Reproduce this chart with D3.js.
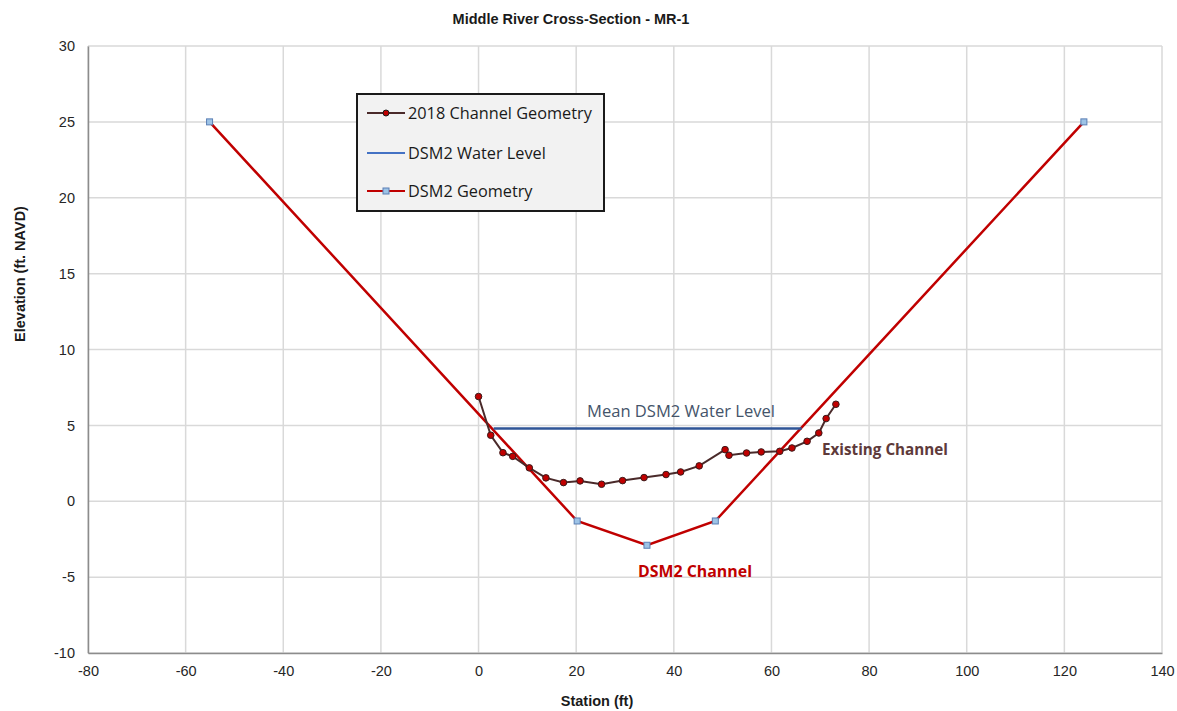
<!DOCTYPE html>
<html><head><meta charset="utf-8">
<script src="https://cdn.jsdelivr.net/npm/d3@7"></script>
<style>body{margin:0;background:#fff;} svg{display:block;}</style>
</head><body>
<script>
// ---- data ----
const channelStation = [0, 2.5, 5.0, 7.0, 10.4, 13.8, 17.4, 20.8, 25.2, 29.5, 33.9, 38.4, 41.4, 45.2, 50.5, 51.3, 54.9, 57.9, 61.7, 64.2, 67.3, 69.7, 71.2, 73.2];
const channelElev    = [6.9, 4.35, 3.2, 2.96, 2.2, 1.54, 1.23, 1.34, 1.12, 1.36, 1.56, 1.76, 1.93, 2.33, 3.4, 3.03, 3.18, 3.25, 3.29, 3.51, 3.95, 4.5, 5.45, 6.39];
const dsm2Station = [-55.1, 20.2, 34.5, 48.5, 124.0];
const dsm2Elev    = [25.0, -1.3, -2.9, -1.3, 25.0];
const waterStation = [3.1, 66.2];
const waterElev    = [4.8, 4.8];
const xTicks = [-80, -60, -40, -20, 0, 20, 40, 60, 80, 100, 120, 140];
const yTicks = [-10, -5, 0, 5, 10, 15, 20, 25, 30];
const legendLabels = ["2018 Channel Geometry", "DSM2 Water Level", "DSM2 Geometry"];

const W = 1177, H = 711;
const m = {left: 88, right: 1162, top: 46, bottom: 653};
const x = d3.scaleLinear().domain([-80, 140]).range([m.left, m.right]);
const y = d3.scaleLinear().domain([-10, 30]).range([m.bottom, m.top]);

const svg = d3.select("body").append("svg").attr("width", W).attr("height", H);
const font = "Liberation Sans, Arial, sans-serif";
const lblFont = "Open Sans, sans-serif";

// grid
svg.append("g").selectAll("line").data(xTicks).join("line")
  .attr("x1", d => x(d)).attr("x2", d => x(d)).attr("y1", m.top).attr("y2", m.bottom)
  .attr("stroke", "#d9d9d9").attr("stroke-width", 1.5);
svg.append("g").selectAll("line").data(yTicks).join("line")
  .attr("x1", m.left).attr("x2", m.right).attr("y1", d => y(d)).attr("y2", d => y(d))
  .attr("stroke", "#d9d9d9").attr("stroke-width", 1.5);

// axes
const fmt = d => String(d);
const xAxis = svg.append("g").attr("transform", `translate(0,${m.bottom})`)
  .call(d3.axisBottom(x).tickValues(xTicks).tickFormat(fmt).tickSize(0).tickPadding(13));
const yAxis = svg.append("g").attr("transform", `translate(${m.left},0)`)
  .call(d3.axisLeft(y).tickValues(yTicks).tickFormat(fmt).tickSize(0).tickPadding(13));
[xAxis, yAxis].forEach(a => {
  a.select(".domain").attr("stroke", "#8c8c8c").attr("stroke-width", 1.5);
  a.selectAll("text").attr("font-family", font).attr("font-size", 14.5).attr("fill", "#262626");
});

// series
const dsm2 = dsm2Station.map((s, i) => [s, dsm2Elev[i]]);
const ch = channelStation.map((s, i) => [s, channelElev[i]]);
const wl = waterStation.map((s, i) => [s, waterElev[i]]);
const line = d3.line().x(d => x(d[0])).y(d => y(d[1]));

svg.append("path").attr("d", line(dsm2)).attr("fill", "none").attr("stroke", "#c00000").attr("stroke-width", 2.5);
svg.append("path").attr("d", line(wl)).attr("fill", "none").attr("stroke", "#2f5597").attr("stroke-width", 2.5);
svg.append("path").attr("d", line(ch)).attr("fill", "none").attr("stroke", "#4a2a2a").attr("stroke-width", 2);
svg.append("g").selectAll("rect").data(dsm2).join("rect")
  .attr("x", d => x(d[0]) - 3).attr("y", d => y(d[1]) - 3).attr("width", 6).attr("height", 6)
  .attr("fill", "#9dc3e6").attr("stroke", "#5b7fb5").attr("stroke-width", 1);
svg.append("g").selectAll("circle").data(ch).join("circle")
  .attr("cx", d => x(d[0])).attr("cy", d => y(d[1])).attr("r", 3.3)
  .attr("fill", "#c00000").attr("stroke", "#3a1a1a").attr("stroke-width", 1);

// annotations
svg.append("text").attr("x", 681).attr("y", 417).attr("text-anchor", "middle")
  .attr("font-family", lblFont).attr("font-size", 16.3).attr("fill", "#44546a")
  .attr("textLength", 188).attr("lengthAdjust", "spacingAndGlyphs")
  .text("Mean DSM2 Water Level");
svg.append("text").attr("x", 822).attr("y", 455)
  .attr("font-family", lblFont).attr("font-weight", "bold").attr("font-size", 15.3).attr("fill", "#5e3a3a")
  .attr("textLength", 126).attr("lengthAdjust", "spacingAndGlyphs")
  .text("Existing Channel");
svg.append("text").attr("x", 638).attr("y", 577)
  .attr("font-family", lblFont).attr("font-weight", "bold").attr("font-size", 15.8).attr("fill", "#c00000")
  .attr("textLength", 114).attr("lengthAdjust", "spacingAndGlyphs")
  .text("DSM2 Channel");

// titles
svg.append("text").attr("x", 571).attr("y", 24).attr("text-anchor", "middle")
  .attr("font-family", font).attr("font-weight", "bold").attr("font-size", 14.5).attr("fill", "#1a1a1a")
  .text("Middle River Cross-Section - MR-1");
svg.append("text").attr("x", 597).attr("y", 706).attr("text-anchor", "middle")
  .attr("font-family", font).attr("font-weight", "bold").attr("font-size", 14.5).attr("fill", "#1a1a1a")
  .text("Station (ft)");
svg.append("text").attr("transform", "translate(25,274) rotate(-90)").attr("text-anchor", "middle")
  .attr("font-family", font).attr("font-weight", "bold").attr("font-size", 14.5).attr("fill", "#1a1a1a")
  .text("Elevation (ft. NAVD)");

// legend
const lg = svg.append("g").attr("transform", "translate(357,94)");
lg.append("rect").attr("x", 0).attr("y", 0).attr("width", 247).attr("height", 117)
  .attr("fill", "#f2f2f2").attr("stroke", "#1a1a1a").attr("stroke-width", 2);
const ly = [19, 59, 97];
const lcol = ["#4a2a2a", "#4472c4", "#c00000"];
const lw = [185, 152, 127];
legendLabels.forEach((t, i) => {
  lg.append("line").attr("x1", 10).attr("x2", 48).attr("y1", ly[i]).attr("y2", ly[i])
    .attr("stroke", lcol[i]).attr("stroke-width", 2);
  if (i === 0) lg.append("circle").attr("cx", 29).attr("cy", ly[i]).attr("r", 3)
    .attr("fill", "#c00000").attr("stroke", "#1a1a1a");
  if (i === 2) lg.append("rect").attr("x", 26).attr("y", ly[i] - 3).attr("width", 6).attr("height", 6)
    .attr("fill", "#9dc3e6").attr("stroke", "#5b7fb5");
  lg.append("text").attr("x", 51).attr("y", ly[i] + 6)
    .attr("font-family", lblFont).attr("font-size", 16.3).attr("fill", "#1a1a1a").text(t);
});
</script>
</body></html>
